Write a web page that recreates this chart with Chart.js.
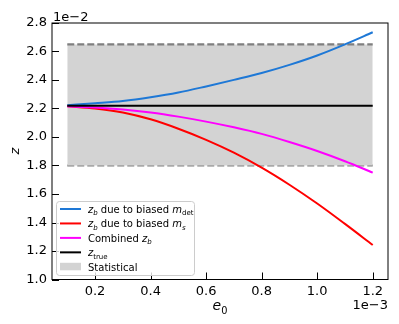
<!DOCTYPE html>
<html>
<head>
<meta charset="utf-8">
<script src="https://cdn.jsdelivr.net/npm/chart.js@4"></script>
<style>
  html, body { margin: 0; padding: 0; background: #fff; }
  #wrap { width: 399px; height: 324px; }
</style>
</head>
<body>
<div id="wrap"><canvas id="chart" width="399" height="324"></canvas></div>
<script>
// e0 in units of 1e-3, z in units of 1e-2
const e0 = [0.1, 0.2, 0.3, 0.4, 0.5, 0.6, 0.7, 0.8, 0.9, 1.0, 1.1, 1.2];
const zDet = [2.223, 2.237, 2.253, 2.279, 2.312, 2.355, 2.401, 2.449, 2.506, 2.572, 2.650, 2.735];
const zMs = [2.215, 2.200, 2.172, 2.124, 2.058, 1.980, 1.890, 1.785, 1.665, 1.533, 1.390, 1.242];
const zComb = [2.215, 2.207, 2.193, 2.172, 2.143, 2.108, 2.068, 2.022, 1.965, 1.902, 1.830, 1.750];
const zTrue = 2.22;
const statLow = 1.80;
const statHigh = 2.65;

const xTicks = [0.2, 0.4, 0.6, 0.8, 1.0, 1.2];
const yTicks = [1.0, 1.2, 1.4, 1.6, 1.8, 2.0, 2.2, 2.4, 2.6, 2.8];

const FONT = '"DejaVu Sans", sans-serif';
const BLUE = '#1e78d6';
const GRAY_FILL = '#d3d3d3';

const pts = (ys) => e0.map((x, i) => ({ x, y: ys[i] }));
const flat = (y) => [{ x: e0[0], y }, { x: e0[e0.length - 1], y }];

// legend rows: rich text pieces (it = italic, sub = subscript)
const legendRows = [
    { kind: 'line', color: BLUE, segs: [{ t: 'z', it: true }, { t: 'b', it: true, sub: true }, { t: ' due to biased ' }, { t: 'm', it: true }, { t: 'det', sub: true }] },
    { kind: 'line', color: 'red', segs: [{ t: 'z', it: true }, { t: 'b', it: true, sub: true }, { t: ' due to biased ' }, { t: 'm', it: true }, { t: 's', it: true, sub: true }] },
    { kind: 'line', color: '#ff00ff', segs: [{ t: 'Combined ' }, { t: 'z', it: true }, { t: 'b', it: true, sub: true }] },
    { kind: 'line', color: '#000000', segs: [{ t: 'z', it: true }, { t: 'true', sub: true }] },
    { kind: 'patch', color: GRAY_FILL, segs: [{ t: 'Statistical' }] },
];

const segFont = (s, size) => `${s.it ? 'italic ' : ''}${s.sub ? size * 0.7 : size}px ${FONT}`;

const richWidth = (ctx, segs, size) => segs.reduce((w, s) => {
    ctx.font = segFont(s, size);
    return w + ctx.measureText(s.t).width;
}, 0);

const drawRich = (ctx, segs, x, y, size, align) => {
    let cx = align === 'right' ? x - richWidth(ctx, segs, size) : align === 'center' ? x - richWidth(ctx, segs, size) / 2 : x;
    ctx.textBaseline = 'alphabetic';
    ctx.textAlign = 'left';
    segs.forEach(s => {
        ctx.font = segFont(s, size);
        ctx.fillText(s.t, cx, s.sub ? y + size * 0.25 : y);
        cx += ctx.measureText(s.t).width;
    });
};

const decor = {
    id: 'decor',
    afterDatasetsDraw(chart) {
        const { ctx, chartArea: a, scales: { x, y } } = chart;
        ctx.save();
        ctx.strokeStyle = '#000';
        ctx.lineWidth = 1;
        ctx.strokeRect(a.left, a.top, a.right - a.left, a.bottom - a.top);
        // inward ticks, left and bottom only
        ctx.beginPath();
        xTicks.forEach(v => {
            const px = Math.round(x.getPixelForValue(v)) + 0.5;
            ctx.moveTo(px, a.bottom);
            ctx.lineTo(px, a.bottom - 7);
        });
        yTicks.forEach(v => {
            const py = Math.round(y.getPixelForValue(v)) + 0.5;
            ctx.moveTo(a.left, py);
            ctx.lineTo(a.left + 7, py);
        });
        ctx.stroke();
        ctx.restore();
    },
    afterDraw(chart) {
        const { ctx, chartArea: a } = chart;
        ctx.save();
        ctx.fillStyle = '#000';

        // offset texts and axis labels
        ctx.font = `13px ${FONT}`;
        ctx.textBaseline = 'alphabetic';
        ctx.textAlign = 'left';
        ctx.fillText('1e\u22122', a.left + 1, 21);
        ctx.textAlign = 'right';
        ctx.fillText('1e\u22123', a.right, 309);
        drawRich(ctx, [{ t: 'e', it: true }, { t: '0', sub: true }], (a.left + a.right) / 2, 310, 14, 'center');

        ctx.save();
        ctx.translate(19, 151);
        ctx.rotate(-Math.PI / 2);
        drawRich(ctx, [{ t: 'z', it: true }], 0, 0, 13, 'center');
        ctx.restore();

        // legend box
        const bx = 56, by = 201, bw = 138, bh = 74;
        ctx.beginPath();
        ctx.roundRect(bx + 0.5, by + 0.5, bw, bh, 3);
        ctx.fillStyle = 'rgba(255,255,255,0.8)';
        ctx.fill();
        ctx.strokeStyle = '#cccccc';
        ctx.lineWidth = 1;
        ctx.stroke();

        legendRows.forEach((row, i) => {
            const cy = 209 + i * 14.45;
            if (row.kind === 'line') {
                ctx.strokeStyle = row.color;
                ctx.lineWidth = 2;
                ctx.beginPath();
                ctx.moveTo(60, cy);
                ctx.lineTo(81, cy);
                ctx.stroke();
            } else {
                ctx.fillStyle = row.color;
                ctx.fillRect(60, cy - 4, 21, 7.5);
            }
            ctx.fillStyle = '#000';
            drawRich(ctx, row.segs, 88, cy + 3.7, 10, 'left');
        });
        ctx.restore();
    }
};

const tickFont = { family: FONT, size: 13 };

new Chart(document.getElementById('chart'), {
    type: 'line',
    data: {
        datasets: [
            { label: 'z_true', data: flat(zTrue), borderColor: '#000', borderWidth: 2, order: 0 },
            { label: 'Combined z_b', data: pts(zComb), borderColor: '#ff00ff', borderWidth: 2, cubicInterpolationMode: 'monotone', order: 1 },
            { label: 'z_b due to biased m_s', data: pts(zMs), borderColor: 'red', borderWidth: 2, cubicInterpolationMode: 'monotone', order: 2 },
            { label: 'z_b due to biased m_det', data: pts(zDet), borderColor: BLUE, borderWidth: 2, cubicInterpolationMode: 'monotone', order: 3 },
            { label: 'Statistical', data: flat(statHigh), borderColor: '#7f7f7f', borderWidth: 2.2, borderDash: [7, 3],
              fill: '+1', backgroundColor: GRAY_FILL, order: 10 },
            { label: 'Statistical low', data: flat(statLow), borderColor: '#7f7f7f', borderWidth: 2.2, borderDash: [7, 3], order: 11 },
        ]
    },
    options: {
        responsive: false,
        animation: false,
        devicePixelRatio: 1,
        layout: { padding: { top: 23, right: 11, left: 0, bottom: 0 } },
        elements: { point: { radius: 0 }, line: { borderCapStyle: 'butt' } },
        plugins: { legend: { display: false }, tooltip: { enabled: false } },
        scales: {
            x: {
                type: 'linear', min: 0.045, max: 1.255,
                afterBuildTicks: s => { s.ticks = xTicks.map(v => ({ value: v })); },
                afterFit: s => { s.height = 44.5; },
                grid: { display: false, drawTicks: false },
                border: { display: false },
                ticks: { font: tickFont, color: '#000', padding: 4, maxRotation: 0, autoSkip: false, callback: v => v.toFixed(1) }
            },
            y: {
                type: 'linear', min: 1.0, max: 2.8,
                afterBuildTicks: s => { s.ticks = yTicks.map(v => ({ value: v })); },
                afterFit: s => { s.width = 52; },
                grid: { display: false, drawTicks: false },
                border: { display: false },
                ticks: { font: tickFont, color: '#000', padding: 5, autoSkip: false, callback: v => v.toFixed(1) }
            }
        }
    },
    plugins: [decor]
});
</script>
</body>
</html>
